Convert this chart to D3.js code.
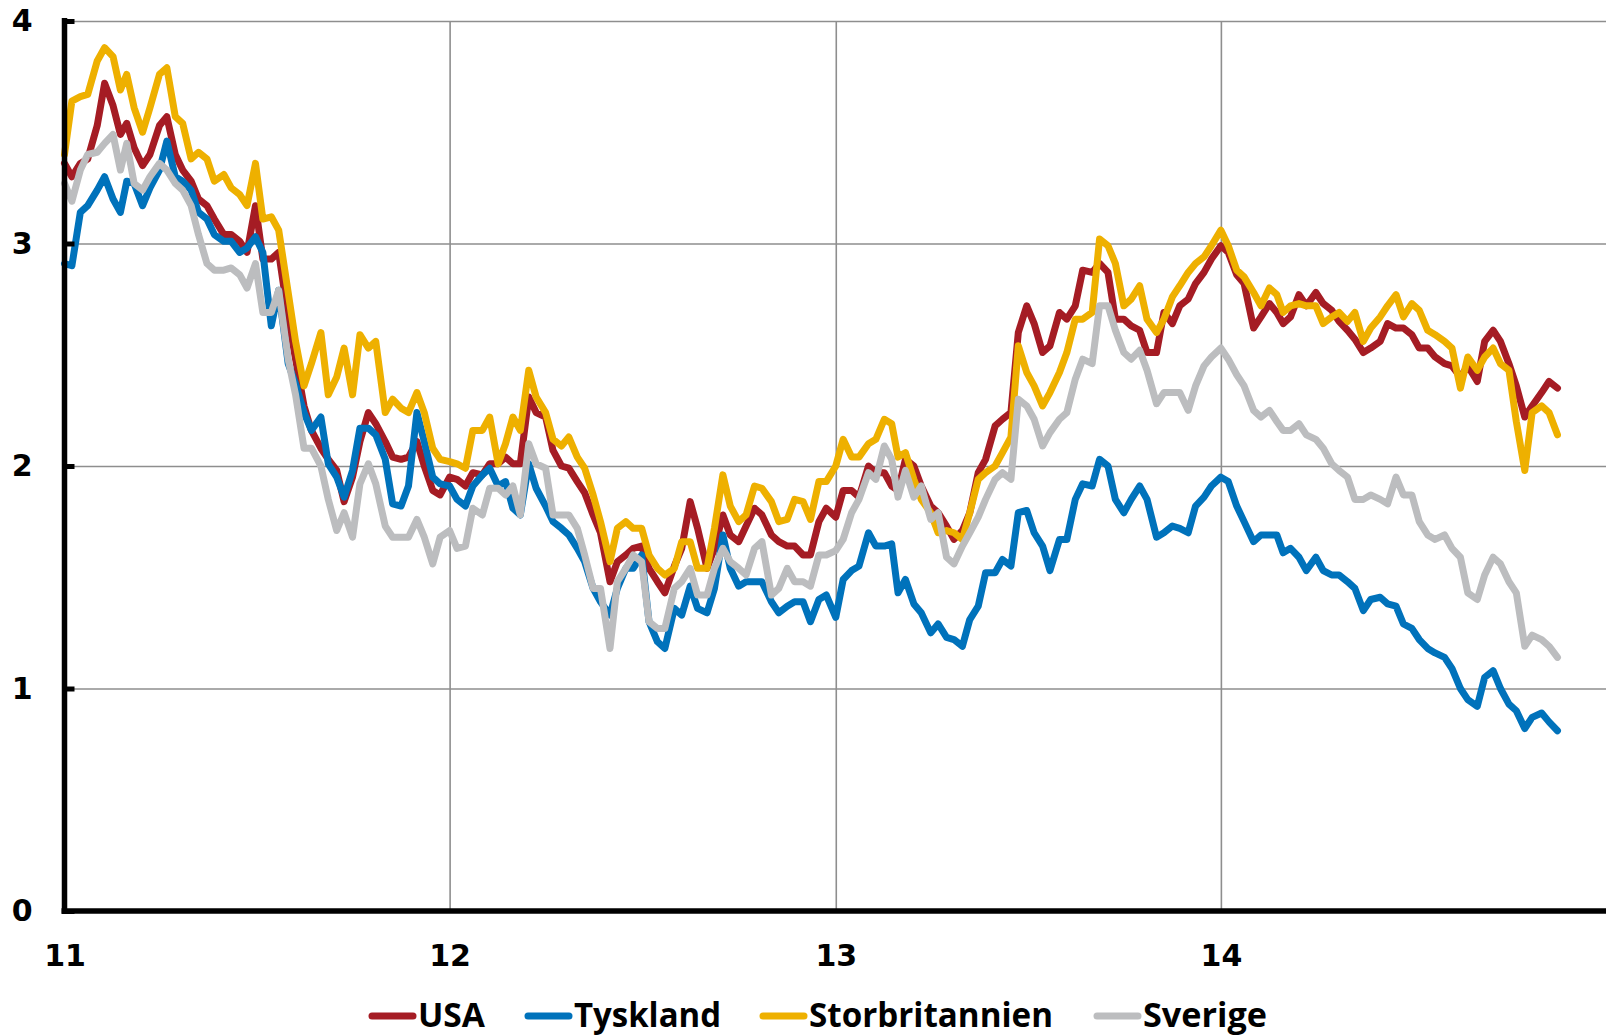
<!DOCTYPE html>
<html>
<head>
<meta charset="utf-8">
<script src="https://cdn.jsdelivr.net/npm/d3@7"></script>
<style>
  body { margin: 0; background: #fff; }
  svg { display: block; }
</style>
</head>
<body>
<div id="chart"></div>
<script>
// size of the page and plot area
var width = 1606,
    height = 1036,
    plotLeft = 64.5,
    plotRight = 1606,
    plotTop = 21,
    plotBottom = 911;

// series, four values a month (1st, 8th, 16th, 23rd), jan 2011 - nov 2014
var usa = [
  3.36,3.30, 3.36,3.38, 3.53,3.72, 3.62,3.49, 3.54,3.43, 3.35,3.40, 3.53,3.57, 3.40,3.33, 3.28,3.20, 3.17,3.11, 3.04,3.04, 3.01,2.96, 3.17,2.93, 2.93,2.96, 2.67,2.48, 2.27,2.16, 2.08,2.03, 1.98,1.84, 1.95,2.11, 2.24,2.19, 2.11,2.04, 2.03,2.04, 2.11,2.00, 1.89,1.87,
  1.95,1.94, 1.91,1.97, 1.96,2.01, 2.01,2.04, 2.01,2.01, 2.31,2.24, 2.22,2.07, 2.00,1.99, 1.93,1.88, 1.78,1.70, 1.48,1.57, 1.60,1.63, 1.64,1.54, 1.48,1.43, 1.55,1.63, 1.84,1.72, 1.54,1.63, 1.78,1.69, 1.66,1.73, 1.81,1.78, 1.69,1.66, 1.64,1.64, 1.60,1.60, 1.75,1.81,
  1.77,1.89, 1.89,1.86, 2.00,1.97, 1.97,1.91, 1.89,2.03, 2.00,1.91, 1.82,1.79, 1.73,1.67, 1.71,1.79, 1.97,2.03, 2.18,2.21, 2.24,2.60, 2.72,2.64, 2.51,2.54, 2.69,2.66, 2.72,2.88, 2.87,2.91, 2.87,2.66, 2.66,2.63, 2.61,2.51, 2.51,2.69, 2.64,2.72, 2.75,2.82, 2.87,2.93,
  2.99,2.96, 2.86,2.82, 2.62,2.67, 2.73,2.69, 2.64,2.67, 2.77,2.72, 2.78,2.73, 2.70,2.65, 2.61,2.57, 2.51,2.53, 2.56,2.64, 2.62,2.62, 2.59,2.53, 2.53,2.49, 2.46,2.45, 2.40,2.45, 2.38,2.56, 2.61,2.56, 2.46,2.36, 2.22,2.27, 2.33,2.38, 2.35];

var tyskland = [
  2.91,2.90, 3.14,3.17, 3.24,3.30, 3.20,3.14, 3.28,3.27, 3.17,3.25, 3.33,3.46, 3.30,3.28, 3.24,3.14, 3.11,3.04, 3.01,3.01, 2.96,2.98, 3.03,2.96, 2.63,2.79, 2.46,2.37, 2.24,2.16, 2.22,2.01, 1.95,1.86, 1.98,2.17, 2.17,2.14, 2.03,1.83, 1.82,1.91, 2.24,2.11, 1.95,1.92,
  1.91,1.85, 1.82,1.91, 1.96,1.99, 1.91,1.93, 1.81,1.78, 2.01,1.90, 1.82,1.75, 1.72,1.69, 1.63,1.57, 1.45,1.39, 1.33,1.45, 1.54,1.54, 1.60,1.30, 1.21,1.18, 1.36,1.33, 1.46,1.36, 1.34,1.45, 1.69,1.54, 1.46,1.48, 1.48,1.48, 1.39,1.34, 1.37,1.39, 1.39,1.30, 1.40,1.42,
  1.32,1.49, 1.53,1.55, 1.70,1.64, 1.64,1.65, 1.43,1.49, 1.38,1.34, 1.25,1.29, 1.23,1.22, 1.19,1.31, 1.37,1.52, 1.52,1.58, 1.55,1.79, 1.80,1.70, 1.64,1.53, 1.67,1.67, 1.85,1.92, 1.91,2.03, 2.00,1.85, 1.79,1.85, 1.91,1.85, 1.68,1.70, 1.73,1.72, 1.70,1.82, 1.86,1.91,
  1.95,1.93, 1.82,1.75, 1.66,1.69, 1.69,1.69, 1.61,1.63, 1.59,1.53, 1.59,1.53, 1.51,1.51, 1.48,1.45, 1.35,1.40, 1.41,1.38, 1.37,1.29, 1.27,1.22, 1.18,1.16, 1.14,1.09, 1.00,0.95, 0.92,1.05, 1.08,1.00, 0.93,0.90, 0.82,0.87, 0.89,0.85, 0.81];

var storbritannien = [
  3.40,3.64, 3.66,3.67, 3.82,3.88, 3.84,3.69, 3.76,3.61, 3.50,3.61, 3.76,3.79, 3.57,3.54, 3.38,3.41, 3.38,3.28, 3.31,3.25, 3.22,3.17, 3.36,3.11, 3.12,3.06, 2.78,2.56, 2.36,2.46, 2.60,2.32, 2.40,2.53, 2.32,2.59, 2.53,2.56, 2.24,2.30, 2.26,2.24, 2.33,2.24, 2.08,2.03,
  2.02,2.01, 1.99,2.16, 2.16,2.22, 2.01,2.10, 2.22,2.16, 2.43,2.31, 2.24,2.12, 2.09,2.13, 2.04,1.99, 1.87,1.75, 1.57,1.72, 1.75,1.72, 1.72,1.60, 1.54,1.51, 1.54,1.66, 1.66,1.54, 1.54,1.72, 1.96,1.82, 1.75,1.78, 1.91,1.90, 1.84,1.75, 1.76,1.85, 1.84,1.76, 1.93,1.93,
  2.00,2.12, 2.04,2.04, 2.10,2.12, 2.21,2.19, 2.04,2.06, 1.94,1.85, 1.79,1.70, 1.71,1.70, 1.67,1.79, 1.94,1.97, 2.00,2.06, 2.13,2.54, 2.42,2.36, 2.27,2.33, 2.42,2.51, 2.66,2.66, 2.69,3.02, 2.99,2.91, 2.72,2.75, 2.81,2.66, 2.60,2.66, 2.76,2.81, 2.87,2.91, 2.94,2.99,
  3.06,2.99, 2.88,2.85, 2.78,2.72, 2.80,2.77, 2.69,2.72, 2.73,2.72, 2.72,2.64, 2.67,2.69, 2.65,2.69, 2.56,2.62, 2.67,2.72, 2.77,2.67, 2.73,2.70, 2.61,2.59, 2.56,2.53, 2.35,2.49, 2.43,2.49, 2.53,2.46, 2.43,2.20, 1.98,2.24, 2.27,2.24, 2.14];

var sverige = [
  3.27,3.19, 3.33,3.40, 3.41,3.45, 3.49,3.33, 3.45,3.27, 3.24,3.30, 3.36,3.33, 3.27,3.24, 3.17,3.04, 2.91,2.88, 2.88,2.89, 2.86,2.80, 2.91,2.69, 2.69,2.79, 2.48,2.32, 2.08,2.08, 2.00,1.85, 1.71,1.79, 1.68,1.92, 2.01,1.92, 1.73,1.68, 1.68,1.68, 1.76,1.68, 1.56,1.68,
  1.71,1.63, 1.64,1.81, 1.78,1.90, 1.90,1.87, 1.91,1.78, 2.10,2.01, 1.99,1.78, 1.78,1.78, 1.72,1.60, 1.45,1.45, 1.18,1.48, 1.54,1.60, 1.57,1.30, 1.27,1.27, 1.45,1.48, 1.54,1.42, 1.42,1.54, 1.63,1.57, 1.54,1.51, 1.63,1.66, 1.42,1.45, 1.54,1.48, 1.48,1.46, 1.60,1.60,
  1.62,1.67, 1.79,1.85, 1.97,1.94, 2.09,2.03, 1.86,1.98, 1.86,1.91, 1.76,1.79, 1.59,1.56, 1.64,1.70, 1.77,1.85, 1.94,1.97, 1.94,2.30, 2.27,2.21, 2.09,2.15, 2.21,2.24, 2.39,2.48, 2.46,2.72, 2.72,2.61, 2.51,2.48, 2.52,2.43, 2.28,2.33, 2.33,2.33, 2.25,2.36, 2.45,2.49,
  2.53,2.48, 2.41,2.36, 2.25,2.22, 2.25,2.20, 2.16,2.16, 2.19,2.14, 2.12,2.08, 2.01,1.98, 1.95,1.85, 1.85,1.87, 1.85,1.83, 1.95,1.87, 1.87,1.75, 1.69,1.67, 1.69,1.63, 1.59,1.43, 1.40,1.51, 1.59,1.56, 1.48,1.43, 1.19,1.24, 1.22,1.19, 1.14];

var names = ["USA", "Tyskland", "Storbritannien", "Sverige"];
var colors = ["#A51C24", "#0072BB", "#EEB000", "#BCBDBF"];
var yTicks = [0, 1, 2, 3, 4];
var days = [1, 8, 16, 23];

var dates = usa.map(function(d, i) {
  return new Date(2011, Math.floor(i / 4), days[i % 4]);
});

var series = [usa, tyskland, storbritannien, sverige].map(function(vals, k) {
  return {name: names[k], color: colors[k], values: vals.map(function(v, i) { return {date: dates[i], value: v}; })};
});

var svg = d3.select("#chart")
  .append("svg")
    .attr("width", width)
    .attr("height", height);

var x = d3.scaleTime()
    .domain([new Date(2011, 0, 1), new Date(2015, 0, 1)])
    .range([plotLeft, plotRight]);

var y = d3.scaleLinear()
    .domain([0, 4])
    .range([plotBottom, plotTop]);

var gridColor = "#8E8E8E";

// horizontal grid
svg.append("g")
    .attr("transform", "translate(" + plotLeft + ",0)")
    .call(d3.axisRight(y).tickValues(yTicks.slice(1)).tickSize(plotRight - plotLeft).tickFormat(""))
    .call(function(g) { g.select(".domain").remove(); })
    .selectAll("line")
      .attr("stroke", gridColor)
      .attr("stroke-width", 1.6);

// vertical grid at each new year
var vgrid = svg.append("g")
    .attr("transform", "translate(0," + plotBottom + ")")
    .call(d3.axisTop(x).ticks(d3.timeYear.every(1)).tickSize(plotBottom - plotTop).tickFormat(""));
vgrid.select(".domain").remove();
vgrid.selectAll(".tick")
    .filter(function(d) { return d.getFullYear() == 2011 || d.getFullYear() == 2015; })
    .remove();
vgrid.selectAll("line")
    .attr("stroke", gridColor)
    .attr("stroke-width", 1.6);

// lines
var line = d3.line()
    .x(function(d) { return x(d.date); })
    .y(function(d) { return y(d.value); });

svg.selectAll(".serie")
  .data(series)
  .enter()
  .append("path")
    .attr("class", "serie")
    .attr("d", function(d) { return line(d.values); })
    .attr("fill", "none")
    .attr("stroke", function(d) { return d.color; })
    .attr("stroke-width", 7)
    .attr("stroke-linejoin", "round")
    .attr("stroke-linecap", "round");

// y axis: labels, inward ticks and the thick line
var yAxis = svg.append("g")
    .attr("transform", "translate(" + plotLeft + ",0)")
    .call(d3.axisLeft(y).tickValues(yTicks).tickSize(0).tickPadding(32).tickFormat(d3.format("d")));
yAxis.select(".domain").remove();
yAxis.selectAll("text")
    .attr("fill", "#000")
    .style("font-family", "'DejaVu Sans', Verdana, sans-serif")
    .style("font-weight", "bold")
    .style("font-size", "30px");

svg.append("g")
    .attr("transform", "translate(" + plotLeft + ",0)")
    .call(d3.axisRight(y).tickValues(yTicks).tickSize(10).tickFormat(""))
    .call(function(g) { g.select(".domain").remove(); })
    .selectAll("line")
      .attr("stroke", "#000")
      .attr("stroke-width", 5);

svg.append("line")
    .attr("x1", plotLeft).attr("x2", plotLeft)
    .attr("y1", plotTop - 3).attr("y2", plotBottom + 3)
    .attr("stroke", "#000")
    .attr("stroke-width", 5.5);

// x axis
var xAxis = svg.append("g")
    .attr("transform", "translate(0," + plotBottom + ")")
    .call(d3.axisBottom(x).ticks(d3.timeYear.every(1)).tickSize(0).tickPadding(34).tickFormat(d3.timeFormat("%y")));
xAxis.select(".domain").remove();
xAxis.selectAll(".tick").filter(function(d) { return d.getFullYear() == 2015; }).remove();
xAxis.selectAll("text")
    .attr("fill", "#000")
    .style("font-family", "'DejaVu Sans', Verdana, sans-serif")
    .style("font-weight", "bold")
    .style("font-size", "30px");

svg.append("line")
    .attr("x1", plotLeft - 3).attr("x2", plotRight)
    .attr("y1", plotBottom).attr("y2", plotBottom)
    .attr("stroke", "#000")
    .attr("stroke-width", 5.5);

// legend
var legendX = [369, 525, 760, 1094];
var legendW = [67, 147, 244, 124];

var legend = svg.selectAll(".legend")
  .data(series)
  .enter()
  .append("g")
    .attr("class", "legend")
    .attr("transform", function(d, i) { return "translate(" + legendX[i] + ",1016)"; });

legend.append("line")
    .attr("x1", 3).attr("x2", 44)
    .attr("stroke", function(d) { return d.color; })
    .attr("stroke-width", 7)
    .attr("stroke-linecap", "round");

legend.append("text")
    .attr("x", 49)
    .attr("y", 11)
    .attr("textLength", function(d, i) { return legendW[i]; })
    .attr("lengthAdjust", "spacingAndGlyphs")
    .style("font-family", "'Open Sans', sans-serif")
    .style("font-weight", "bold")
    .style("font-size", "34px")
    .text(function(d) { return d.name; });
</script>
</body>
</html>
